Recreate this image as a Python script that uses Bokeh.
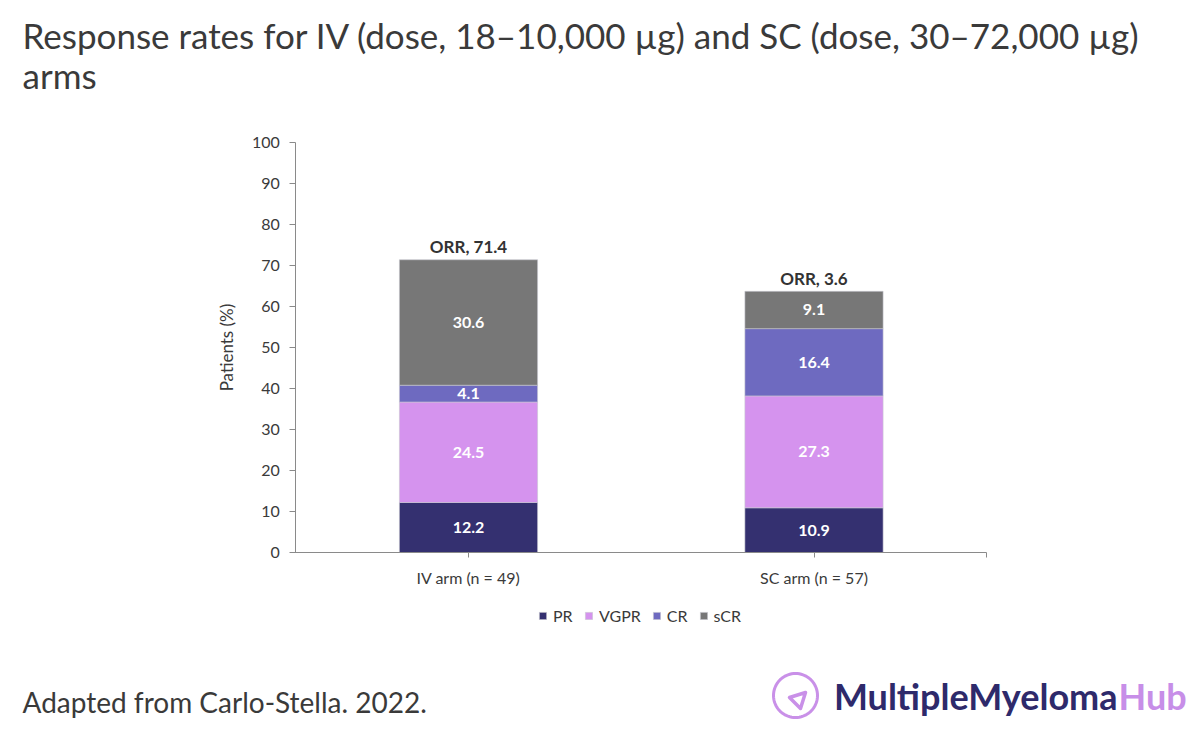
import math
from bokeh.plotting import figure
from bokeh.models import (ColumnDataSource, Label, Legend, LegendItem, Range1d,
                          PolyAnnotation, LinearAxis, FixedTicker)
from bokeh.embed import file_html
from bokeh.resources import INLINE
from bokeh.core.properties import value

# ---------------- data ----------------
arms = ["IV arm (n = 49)", "SC arm (n = 57)"]
responses = ["PR", "VGPR", "CR", "sCR"]
pr = [12.2, 10.9]
vgpr = [24.5, 27.3]
cr = [4.1, 16.4]
scr = [30.6, 9.1]
orr_labels = ["ORR, 71.4", "ORR, 3.6"]
y_ticks = [0, 10, 20, 30, 40, 50, 60, 70, 80, 90, 100]
colors = ["#343070", "#d593ee", "#6e6ac0", "#777777"]

title_lines = ["Response rates for IV (dose, 18\u201310,000 \u00b5g) and SC (dose, 30\u201372,000 \u00b5g)", "arms"]
footer_text = "Adapted from Carlo-Stella. 2022."

FONT = "Lato"
TXT = "#3a3a3a"
AX = "#8a8a8a"
LAV = "#c990e8"

# ---------------- canvas geometry (pixels) ----------------
W, H = 1192, 730
X0_PX, UNIT_PX = 295.25, 345.5        # left edge of first category band, px per band
Y0_PX, Y100_PX = 552, 142             # page y of 0 % and 100 %
ppy = (Y0_PX - Y100_PX) / 100.0
x_start = -X0_PX / UNIT_PX
x_end = x_start + W / UNIT_PX
y_start = -(H - Y0_PX) / ppy
y_end = Y0_PX / ppy

def sy(py):           # page y -> screen y measured from bottom
    return H - py

def mid(baseline, size):   # labels are placed by their vertical middle
    return sy(baseline - 0.38 * size)

# category positions on the numeric axis (band centres)
xpos = [i + 0.5 for i in range(len(arms))]

src = ColumnDataSource(dict(x=xpos, arm=arms, PR=pr, VGPR=vgpr, CR=cr, sCR=scr))

p = figure(x_range=Range1d(x_start, x_end), y_range=Range1d(y_start, y_end),
           width=W, height=H, output_backend="svg", toolbar_location=None,
           x_axis_location=None, y_axis_location=None, min_border=0)
p.xgrid.grid_line_color = None
p.ygrid.grid_line_color = None
p.outline_line_color = None

rends = p.vbar_stack(responses, x="x", width=0.4, source=src,
                     fill_color=colors, line_color="#c8c8d0", line_width=0.6)

series = [pr, vgpr, cr, scr]
lx, ly, lt = [], [], []
for i, xp in enumerate(xpos):
    base = 0.0
    for s in series:
        v = s[i]
        lx.append(xp)
        ly.append(base + v / 2.0)
        lt.append(f"{v:.1f}")
        base += v
p.text(x=lx, y=ly, text=lt, text_font=value(FONT), text_font_style="bold",
       text_font_size="16px", text_color="white", text_align="center",
       text_baseline="middle")

totals = [a + b + c + d for a, b, c, d in zip(pr, vgpr, cr, scr)]
p.text(x=xpos, y=totals, text=orr_labels, text_font=value(FONT),
       text_font_style="bold", text_font_size="17px", text_color="#333333",
       text_align="center", text_baseline="alphabetic", y_offset=-13)

# ---------------- axes ----------------
yaxis = LinearAxis(fixed_location=0, bounds=(0, 100), ticker=FixedTicker(ticks=y_ticks),
                   axis_label="Patients (%)")
yaxis.minor_tick_line_color = None
yaxis.major_tick_in = 0
yaxis.major_tick_out = 6
yaxis.axis_line_color = AX
yaxis.major_tick_line_color = AX
yaxis.major_label_text_font = FONT
yaxis.major_label_text_font_size = "16px"
yaxis.major_label_text_color = TXT
yaxis.major_label_standoff = 10
yaxis.axis_label_text_font = FONT
yaxis.axis_label_text_font_style = "normal"
yaxis.axis_label_text_font_size = "17px"
yaxis.axis_label_text_color = TXT
yaxis.axis_label_standoff = 12
p.add_layout(yaxis, "left")

x_ticks = xpos + [float(len(arms))]
overrides = {xp: a for xp, a in zip(xpos, arms)}
overrides[float(len(arms))] = ""
xaxis = LinearAxis(fixed_location=0, bounds=(-0.005, float(len(arms))),
                   ticker=FixedTicker(ticks=x_ticks), major_label_overrides=overrides)
xaxis.minor_tick_line_color = None
xaxis.major_tick_in = 0
xaxis.major_tick_out = 5
xaxis.axis_line_color = AX
xaxis.major_tick_line_color = AX
xaxis.major_label_text_font = FONT
xaxis.major_label_text_font_size = "16px"
xaxis.major_label_text_color = TXT
xaxis.major_label_standoff = 10
p.add_layout(xaxis, "below")

# ---------------- legend ----------------
legend = Legend(items=[LegendItem(label=r, renderers=[rd]) for r, rd in zip(responses, rends)],
                orientation="horizontal", location=(538, sy(625)),
                label_text_font=FONT, label_text_font_size="16px",
                label_text_color=TXT, glyph_width=9, glyph_height=9,
                label_standoff=6, spacing=11, border_line_color=None,
                background_fill_alpha=0, padding=4, margin=0)
p.add_layout(legend)

# ---------------- title ----------------
for txt, base in zip(title_lines, [48, 88]):
    p.add_layout(Label(x=22, y=mid(base, 35), x_units="screen", y_units="screen",
                       text=txt, text_font=FONT, text_font_size="35px",
                       text_color=TXT, text_baseline="middle"))

# ---------------- footer ----------------
p.add_layout(Label(x=22, y=mid(712, 28), x_units="screen", y_units="screen",
                   text=footer_text, text_font=FONT, text_font_size="28px",
                   text_color=TXT, text_baseline="middle"))

# logo: ring + inner rounded triangle
cx, cy, r = 795, 695, 22
ring_x = [cx + r * math.cos(2 * math.pi * k / 72) for k in range(72)]
ring_y = [sy(cy + r * math.sin(2 * math.pi * k / 72)) for k in range(72)]
p.add_layout(PolyAnnotation(xs=ring_x, ys=ring_y, xs_units="screen", ys_units="screen",
                            fill_alpha=0, line_color=LAV, line_alpha=1.0, line_width=3))
p.add_layout(PolyAnnotation(xs=[789, 805, 800], ys=[sy(697), sy(692), sy(708)],
                            xs_units="screen", ys_units="screen",
                            fill_alpha=0, line_color=LAV, line_alpha=1.0,
                            line_width=3.5, line_join="round"))

p.add_layout(Label(x=1117, y=mid(709, 36), x_units="screen", y_units="screen",
                   text="MultipleMyeloma", text_font=FONT, text_font_style="bold",
                   text_font_size="36px", text_color="#2e2a6b",
                   text_align="right", text_baseline="middle"))
p.add_layout(Label(x=1118, y=mid(709, 36), x_units="screen", y_units="screen",
                   text="Hub", text_font=FONT, text_font_style="bold",
                   text_font_size="36px", text_color="#c78ee8",
                   text_align="left", text_baseline="middle"))

open("out.html", "w").write(file_html(p, INLINE))
